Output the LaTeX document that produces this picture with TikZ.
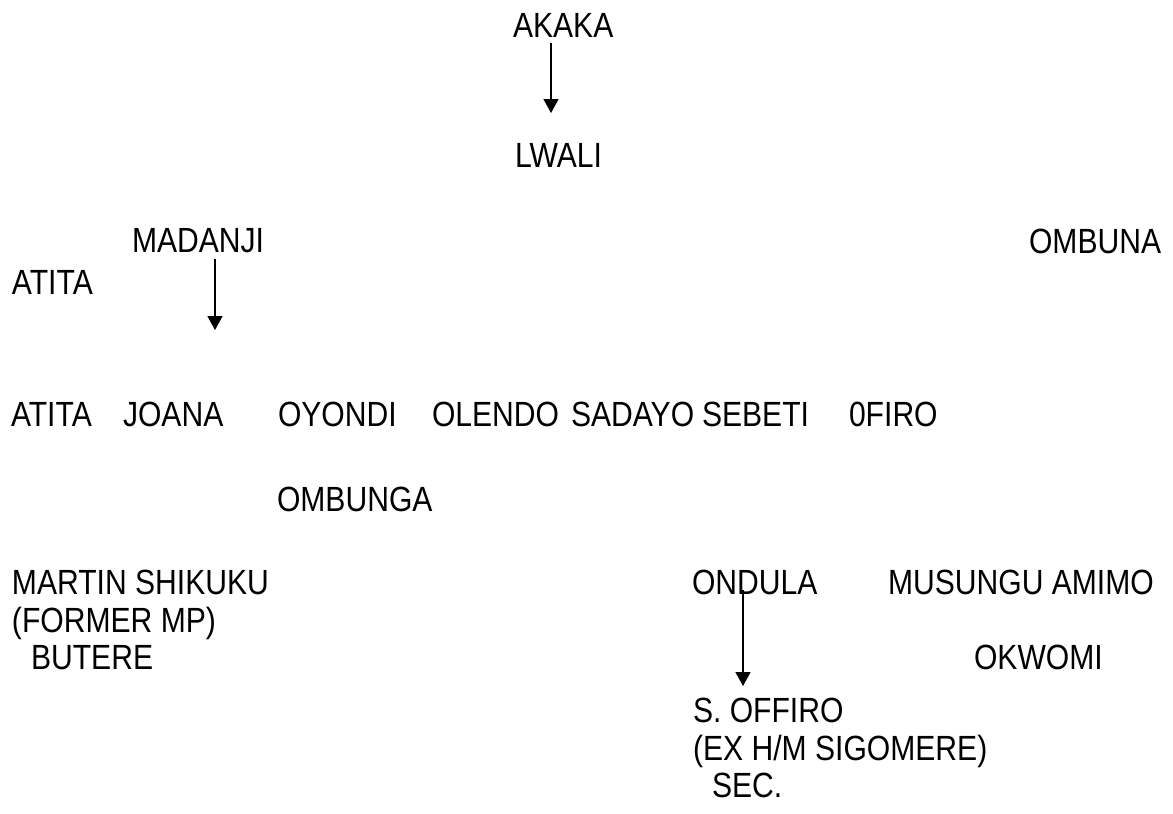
\documentclass[tikz,border=0pt]{standalone}
\usepackage{fontspec}
\setmainfont[FakeStretch=0.86]{Liberation Sans}
\usetikzlibrary{arrows.meta}
\begin{document}
\begin{tikzpicture}[x=1pt,y=-1pt,
  lbl/.style={anchor=base west,inner sep=0pt,outer sep=0pt,font=\fontsize{35}{40}\selectfont},
  arr/.style={line width=1.5pt,-{Triangle[length=14pt,width=15pt]}}]
\useasboundingbox[fill=white] (0,0) rectangle (1173,814);
% generation 1
\node[lbl] (akaka) at (513,37) {AKAKA};
\node[lbl] (lwali) at (515,167) {LWALI};
\coordinate (a1e) at (551,113);
\draw[arr] ([yshift=-6pt]akaka.south -| a1e) -- (a1e);
% generation 2
\node[lbl] (madanji) at (132,252) {MADANJI};
\node[lbl] (ombuna) at (1029,253) {OMBUNA};
\node[lbl] (atita1) at (12,294) {ATITA};
\coordinate (a2e) at (215,330);
\draw[arr] ([yshift=-7pt]madanji.south -| a2e) -- (a2e);
% generation 3
\node[lbl] (atita2) at (11,426) {ATITA};
\node[lbl] (joana) at (123,426) {JOANA};
\node[lbl] (oyondi) at (278,426) {OYONDI};
\node[lbl] (olendo) at (432,426) {OLENDO};
\node[lbl] (sadayo) at (571,426) {SADAYO};
\node[lbl] (sebeti) at (702,426) {SEBETI};
\node[lbl] (ofiro) at (849,426) {0FIRO};
\node[lbl] (ombunga) at (277,511) {OMBUNGA};
% generation 4
\node[lbl] (martin) at (12,594) {MARTIN SHIKUKU};
\node[lbl] (martinb) at (12,632) {(FORMER MP)};
\node[lbl] (martinc) at (31,669) {BUTERE};
\node[lbl] (ondula) at (692,594) {ONDULA};
\node[lbl] (musungu) at (888,594) {MUSUNGU AMIMO};
\node[lbl] (okwomi) at (974,669) {OKWOMI};
\node[lbl] (offiro) at (693,722) {S. OFFIRO};
\node[lbl] (offirob) at (693,760) {(EX H/M SIGOMERE)};
\node[lbl] (offiroc) at (712,797) {SEC.};
\coordinate (a3e) at (743,686);
\draw[arr] ([yshift=4pt]ondula.south -| a3e) -- (a3e);
\end{tikzpicture}
\end{document}
